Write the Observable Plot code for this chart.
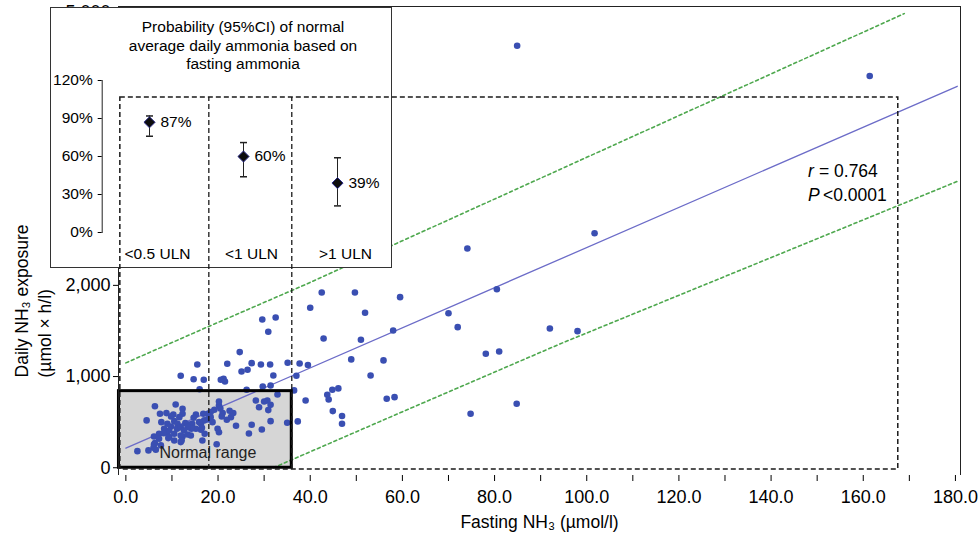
<!DOCTYPE html>
<html><head><meta charset="utf-8">
<script src="https://cdn.jsdelivr.net/npm/d3@7"></script>
<script src="https://cdn.jsdelivr.net/npm/@observablehq/plot@0.6"></script>
<style>
body{margin:0;background:#fff;}
#wrap{position:relative;width:979px;height:540px;font-family:"Liberation Sans",Arial,sans-serif;}
#wrap > svg{position:absolute;left:0;top:0;}
#inset{position:absolute;left:50px;top:7px;width:340px;height:259px;border:1px solid #333;background:#fff;}
#inset svg{position:absolute;left:0;top:0;}
</style></head><body><div id="wrap"></div>
<script>
// ---------- data ----------
const xTicks = d3.range(0, 181, 10);
const yTicks = [0, 1000, 2000, 3000, 4000, 5000];
const yHiddenLabels = [3000, 4000]; // covered by the inset in the reference
const insetTicks = [0, 30, 60, 90, 120];
const categories = ["<0.5 ULN", "<1 ULN", ">1 ULN"];
const probability = [87, 60, 39];
const ciLow = [76, 44, 21];
const ciHigh = [92, 71, 59];
const probLabels = ["87%", "60%", "39%"];
const insetTitle = "Probability (95%CI) of normal\naverage daily ammonia based on\nfasting ammonia";
const xTitle = "Fasting NH\u2083 (\u00b5mol/l)";
const yTitle = "Daily NH\u2083 exposure\n(\u00b5mol \u00d7 h/l)";

// [fasting NH3, daily NH3 exposure]
const points = [
  [84.9,4628],[161.4,4296],[101.7,2572],[74.1,2405],[80.5,1958],[92.0,1527],[98.0,1498],[70.0,1695],
  [72.0,1542],[78.1,1250],[81.0,1275],[84.8,702],[74.8,592],[59.5,1871],[42.5,1922],[49.7,1922],
  [40.0,1754],[51.9,1700],[58.0,1505],[42.9,1418],[51.0,1404],[35.1,1151],[37.7,1144],[39.5,1127],
  [48.9,1188],[55.9,1177],[37.0,1009],[53.1,1012],[44.8,855],[46.1,870],[43.7,800],[44.0,749],
  [39.0,738],[56.6,757],[58.3,774],[44.9,621],[46.9,568],[46.9,482],[37.3,508],[35.0,493],
  [29.6,1626],[32.5,1648],[30.9,1492],[24.7,1268],[22.0,1140],[15.5,1133],[11.9,1009],[14.7,971],
  [16.9,965],[16.0,860],[20.6,965],[21.2,976],[21.5,946],[25.1,1056],[26.4,1075],[27.3,1147],
  [29.3,1133],[31.3,1133],[32.0,1012],[26.2,855],[29.7,891],[31.4,902],[36.5,848],
  [32.9,804],[28.2,738],[30.7,738],[30.0,726],[31.4,690],[28.9,664],[30.9,632],[27.3,471],
  [31.4,511],[26.7,376],[29.5,420],[23.9,460],[22.8,555],[23.3,599],[22.5,625],[21.9,526],
  [21.0,599],[20.8,563],[20.2,683],[20.2,727],[20.5,650],[19.2,636],[18.4,610],[17.8,592],
  [18.4,555],[17.8,530],[18.8,500],[19.9,428],[20.2,390],[19.7,258],[16.6,299],[16.3,417],
  [17.1,373],[17.0,519],[16.3,482],[15.9,500],[16.8,592],[15.2,584],[14.7,548],[15.2,428],
  [14.4,482],[12.9,489],[13.7,475],[14.2,428],[13.4,445],[14.1,354],[12.3,343],[12.3,647],
  [10.8,694],[12.3,592],[11.6,555],[10.3,584],[9.8,563],[8.8,599],[7.4,592],[6.3,675],
  [4.5,519],[7.7,500],[9.0,482],[10.5,511],[11.2,482],[9.8,453],[11.1,428],[11.9,445],
  [12.6,409],[8.3,428],[9.4,409],[9.0,390],[10.5,373],[11.9,354],[13.4,365],[7.2,373],
  [8.2,379],[6.1,343],[9.4,336],[9.2,325],[7.2,318],[10.5,299],[11.9,281],[12.1,299],
  [6.3,270],[6.1,255],[7.6,245],[6.0,220],[6.5,197],[4.9,190],[2.5,182],[16.5,439]
];
const regression = [[0,215],[180.4,4183]];
const upperBand = [[0,1150],[15.5,1495],[39,2010],[59.6,2480],[168.9,4980]];
const lowerBand = [[32,0],[59.6,605],[94.3,1360],[180.4,3140]];
const normalRange = {x1:-1.5, x2:36, y1:0, y2:840};
const normalLabel = {text:"Normal range", x:17.8, y:168};
const ulnLines = [18, 36];
const groupBox = {x1:-1.2, x2:167.6, y1:-20, y2:4060};
const stats = [
  {it:"r", rest:"= 0.764", x:148, y:3250},
  {it:"P", rest:"<0.0001", x:148, y:2985}
];

// ---------- layout ----------
const FONT = '"Liberation Sans", Arial, sans-serif';
const frameOpts = {
  width:979, height:540, marginLeft:118, marginRight:19, marginTop:6, marginBottom:65,
  x:{domain:[-1.6,181.1], axis:null},
  y:{domain:[-85,5058], axis:null}
};
const wrap = document.getElementById("wrap");

const main = Plot.plot({
  ...frameOpts,
  style:{fontFamily:FONT, fontSize:"18px", color:"#000", background:"white", overflow:"visible"},
  marks:[
    Plot.rect([normalRange], {x1:"x1", x2:"x2", y1:"y1", y2:"y2", fill:"#d6d6d6"}),
    Plot.line(upperBand, {x:d=>d[0], y:d=>d[1], stroke:"#4ea84e", strokeWidth:1.6, strokeDasharray:"3,3"}),
    Plot.line(lowerBand, {x:d=>d[0], y:d=>d[1], stroke:"#4ea84e", strokeWidth:1.6, strokeDasharray:"3,3"}),
    Plot.line(regression, {x:d=>d[0], y:d=>d[1], stroke:"#6c6cc8", strokeWidth:1.3}),
    Plot.dot(points, {x:d=>d[0], y:d=>d[1], r:3.3, fill:"#3a4fb2"}),
    Plot.rect([normalRange], {x1:"x1", x2:"x2", y1:"y1", y2:"y2", fill:"none", stroke:"#000", strokeWidth:3}),
    Plot.text([normalLabel], {x:"x", y:"y", text:"text", fontSize:16, fill:"#222"}),
    Plot.text(stats, {x:"x", y:"y", text:"it", fontStyle:"italic", textAnchor:"start", fontSize:17.5}),
    Plot.text(stats.slice(0,1), {x:"x", y:"y", text:"rest", textAnchor:"start", dx:11, fontSize:17.5}),
    Plot.text(stats.slice(1), {x:"x", y:"y", text:"rest", textAnchor:"start", dx:15, fontSize:17.5}),
    Plot.axisX({ticks:xTicks, tickFormat:d => d % 20 ? "" : d.toFixed(1), tickSize:6, tickPadding:9, fontSize:18, label:null}),
    Plot.axisY({ticks:yTicks, tickFormat:d => yHiddenLabels.includes(d) ? "" : d3.format(",")(d), tickSize:5, tickPadding:3, fontSize:18, label:null}),
    Plot.ruleY([frameOpts.y.domain[1]], {stroke:"#222"}),
    Plot.ruleX([frameOpts.x.domain[0]], {stroke:"#222"}),
    Plot.ruleX([frameOpts.x.domain[1]], {stroke:"#222"}),
    Plot.text([xTitle], {frameAnchor:"bottom", dy:52, fontSize:17.5}),
    Plot.text([{t:yTitle, y:990}], {y:"y", text:"t", frameAnchor:"left", dx:-86, rotate:-90, lineHeight:1.3, fontSize:17.5})
  ]
});
wrap.appendChild(main);

// ---------- inset ----------
const insetData = categories.map((c,i)=>({cat:c, p:probability[i], lo:ciLow[i], hi:ciHigh[i], label:probLabels[i]}));
const cap = {draw(ctx){ ctx.moveTo(-3.5,0); ctx.lineTo(3.5,0); }};
const insetDiv = document.createElement("div");
insetDiv.id = "inset";
const inset = Plot.plot({
  width:340, height:259, marginLeft:50.7, marginRight:7.7, marginTop:72, marginBottom:35,
  x:{type:"point", domain:categories, padding:0.49, axis:null},
  y:{domain:[0,120], axis:null},
  style:{fontFamily:FONT, fontSize:"15.5px", color:"#000", background:"transparent", overflow:"visible"},
  marks:[
    Plot.frame({anchor:"left", stroke:"#222"}),
    Plot.axisY({ticks:insetTicks, tickFormat:d => d + "%", tickSize:4, tickPadding:5.5, fontSize:15.5, label:null}),
    Plot.axisX({tickSize:0, tickPadding:15.5, dx:8, fontSize:15.5, label:null}),
    Plot.ruleX(insetData, {x:"cat", y1:"lo", y2:"hi", stroke:"#222"}),
    Plot.dot(insetData, {x:"cat", y:"lo", symbol:cap, r:3, stroke:"#222", fill:"none"}),
    Plot.dot(insetData, {x:"cat", y:"hi", symbol:cap, r:3, stroke:"#222", fill:"none"}),
    Plot.dot(insetData, {x:"cat", y:"p", symbol:"diamond2", r:5, fill:"#0d0d0d", stroke:"#2a2a8a", strokeWidth:1}),
    Plot.text(insetData, {x:"cat", y:"p", text:"label", textAnchor:"start", dx:11, fontSize:15.5}),
    Plot.text([insetTitle], {frameAnchor:"top", dy:-36, lineAnchor:"middle", lineHeight:1.22, fontSize:15.5})
  ]
});
insetDiv.appendChild(inset);
wrap.appendChild(insetDiv);

// ---------- dashed group overlay ----------
const overlay = Plot.plot({
  ...frameOpts,
  style:{background:"transparent", overflow:"visible", pointerEvents:"none"},
  marks:[
    Plot.rect([groupBox], {x1:"x1", x2:"x2", y1:"y1", y2:"y2", fill:"none", stroke:"#1a1a1a", strokeWidth:1.5, strokeDasharray:"5,3"}),
    Plot.ruleX(ulnLines, {y1:groupBox.y1, y2:groupBox.y2, stroke:"#1a1a1a", strokeWidth:1.3, strokeDasharray:"5,3"})
  ]
});
wrap.appendChild(overlay);
</script></body></html>
